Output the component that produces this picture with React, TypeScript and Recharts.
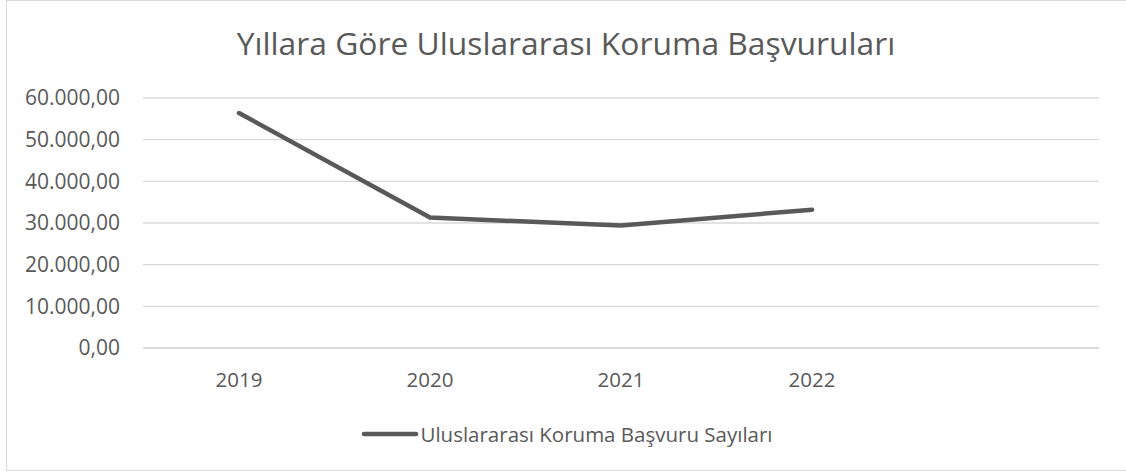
import React from "react";
import { LineChart, Line, XAxis, YAxis, CartesianGrid, Legend } from "recharts";

const years = ["2019", "2020", "2021", "2022", ""];
const applications: (number | null)[] = [56400, 31300, 29400, 33200, null];
const yTicks = [0, 10000, 20000, 30000, 40000, 50000, 60000];
const seriesName = "Uluslararası Koruma Başvuru Sayıları";
const title = "Yıllara Göre Uluslararası Koruma Başvuruları";

const data = years.map((y, i) => ({ year: y, value: applications[i] }));

const TEXT = "#595959";
const GRID = "#d9d9d9";
const FONT = "'Open Sans', 'Noto Sans', sans-serif";

const fmt = (n: number) => {
  const s = Math.round(n).toString().replace(/\B(?=(\d{3})+(?!\d))/g, ".");
  return s + ",00";
};

const LegendContent = (props: any) => {
  const { payload } = props;
  return (
    <div style={{ display: "flex", justifyContent: "center", alignItems: "center" }}>
      {(payload || []).map((p: any) => (
        <div key={p.value} style={{ display: "flex", alignItems: "center", marginLeft: 8 }}>
          <svg width={58} height={10} style={{ marginRight: 1 }}>
            <line x1={3} y1={5} x2={55} y2={5} stroke={p.color} strokeWidth={4.5} strokeLinecap="round" />
          </svg>
          <span style={{ color: TEXT, fontSize: 20.5, fontFamily: FONT }}>{p.value}</span>
        </div>
      ))}
    </div>
  );
};

export default function App() {
  return (
    <div style={{ position: "absolute", left: 0, top: 0, width: 1126, height: 475, background: "#fff", overflow: "hidden" }}>
      <div
        style={{
          position: "absolute",
          left: 6,
          top: 0,
          width: 1140,
          height: 471,
          border: `1.5px solid ${GRID}`,
          boxSizing: "border-box",
        }}
      />
      <svg width={1126} height={80} style={{ position: "absolute", left: 0, top: 0 }}>
        <text x={566} y={55} textAnchor="middle" fill={TEXT} fontFamily={FONT} fontSize={31.8}>
          {title}
        </text>
      </svg>
      <div style={{ position: "absolute", left: 0, top: 0 }}>
        <LineChart
          width={1126}
          height={475}
          data={data}
          margin={{ top: 98, right: 27, left: 0, bottom: 87 }}
          style={{ fontFamily: FONT }}
        >
          <CartesianGrid vertical={false} stroke={GRID} strokeWidth={1.3} />
          <XAxis
            dataKey="year"
            height={40}
            tickLine={false}
            axisLine={{ stroke: GRID, strokeWidth: 1.3 }}
            tick={{ fill: TEXT, fontSize: 20.5 }}
            tickMargin={18}
            interval={0}
            padding={{ left: 96, right: 96 }}
          />
          <YAxis
            width={143}
            domain={[0, 60000]}
            ticks={yTicks}
            tickFormatter={fmt}
            tickLine={false}
            axisLine={false}
            tick={{ fill: TEXT, fontSize: 21 }}
            tickMargin={17}
          />
          <Legend
            verticalAlign="middle"
            align="center"
            layout="horizontal"
            content={<LegendContent />}
            wrapperStyle={{ top: 420, left: 0, width: 1126 }}
          />
          <Line
            type="linear"
            dataKey="value"
            name={seriesName}
            stroke="#595959"
            strokeWidth={4.5}
            strokeLinecap="round"
            dot={false}
            activeDot={false}
            isAnimationActive={false}
          />
        </LineChart>
      </div>
    </div>
  );
}
